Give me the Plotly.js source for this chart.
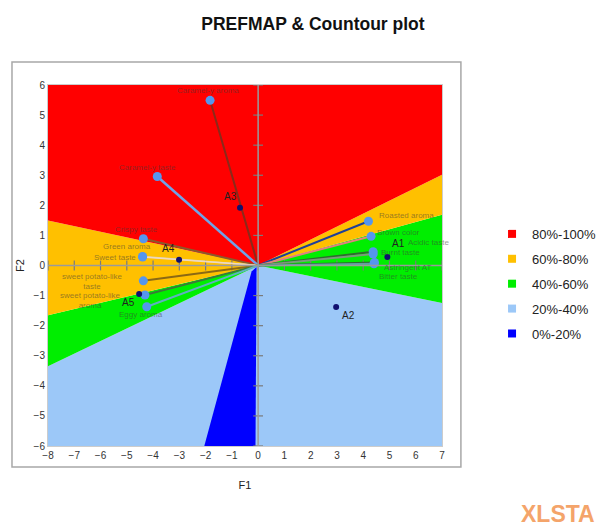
<!DOCTYPE html>
<html><head><meta charset="utf-8">
<script src="https://cdn.plot.ly/plotly-3.0.1.min.js"></script>
<style>html,body{margin:0;padding:0;background:#fff}#chart{width:603px;height:529px}</style>
</head><body><div id="chart"></div>
<script>
// ---- data ----
const attrNames = ["Caramel-y aroma","Caramel-y taste","Crispy taste","Green aroma","Sweet taste","sweet potato-like<br>taste","sweet potato-like<br>aroma","Eggy aroma","Roasted aroma","Brown color","Acidic taste","Burnt taste","Astringent AT","Bitter taste"];
const attrX = [-1.83,-3.84,-4.37,-4.40,-4.40,-4.37,-4.31,-4.24,4.20,4.30,4.38,4.38,4.43,4.41];
const attrY = [5.49,2.96,0.89,0.30,0.28,-0.51,-0.98,-1.37,1.47,0.97,0.46,0.38,0.10,0.06];
const prodNames = ["A1","A2","A3","A4","A5"];
const prodX = [4.92,2.97,-0.69,-3.01,-4.53];
const prodY = [0.28,-1.38,1.92,0.19,-0.95];
const zoneNames = ["80%-100%","60%-80%","40%-60%","20%-40%","0%-20%"];
// zone boundaries (polygons)
const zone80X = [-8,7,7,0,-8];
const zone80Y = [6,6,3.02,0,1.5];
const zone60X = [-8,0,-8,null,0,7,7];
const zone60Y = [1.5,0,-1.65,null,0,3.02,1.69];
const zone40X = [-8,0,-8,null,0,7,7];
const zone40Y = [-1.65,0,-3.35,null,0,1.69,-1.25];
const zone20X = [-8,0,7,7,-8];
const zone20Y = [-3.35,0,-1.25,-6,-6];
const zone0X = [-0.25,-0.06,-0.1,-2.05];
const zone0Y = [-0.2,-0.05,-6,-6];
const xTicks = [-8,-7,-6,-5,-4,-3,-2,-1,0,1,2,3,4,5,6,7];
const yTicks = [-6,-5,-4,-3,-2,-1,0,1,2,3,4,5,6];

// ---- styles ----
const zoneColors = ["#ff0000","#ffc000","#00ee00","#9cc8f8","#0000ff"];
const vecColors = ["#8a2a1a","#6fa3e8","#8b5a2b","#d8d0b0","#f0d8c0","#8b6914","#3a7a3a","#5fb0c0","#1f3f99","#e08080","#2e6b2e","#7a9a7a","#2e6b2e","#60a0a0"];
const vecWidths = [2,2.5,2,1.5,1.5,2,2,2,2,2,2,2,2,2];
const attrDX = [-2,-10,-7,-16,-28,-51,-54,-6,38,27,55,27,34,25];
const attrDY = [10,9,9,10,0,-1,-6,-8,6,4,9,2,-5,-13];
const prodDX = [11,12,-10,-11,-11];
const prodDY = [14,-8,11,11,-8];

const traces = [];
const zones = [[zone80X,zone80Y],[zone60X,zone60Y],[zone40X,zone40Y],[zone20X,zone20Y],[zone0X,zone0Y]];
[3,2,1,0,4].forEach(i=>{
  traces.push({x:zones[i][0],y:zones[i][1],type:'scatter',mode:'lines',fill:'toself',
    fillcolor:zoneColors[i],line:{width:0,color:zoneColors[i]},showlegend:false,hoverinfo:'skip'});
});
// tick marks on zero axes
traces.push({x:xTicks,y:xTicks.map(()=>0),type:'scatter',mode:'markers',hoverinfo:'skip',
  marker:{symbol:'line-ns',size:7,color:'#7a7a7a',line:{color:'#7a7a7a',width:1.2}},showlegend:false});
traces.push({x:yTicks.map(()=>0),y:yTicks,type:'scatter',mode:'markers',hoverinfo:'skip',
  marker:{symbol:'line-ew',size:7,color:'#7a7a7a',line:{color:'#7a7a7a',width:1.2}},showlegend:false});
// vectors
attrNames.forEach((n,i)=>{
  traces.push({x:[0,attrX[i]],y:[0,attrY[i]],type:'scatter',mode:'lines',
    line:{color:vecColors[i],width:vecWidths[i]},showlegend:false,hoverinfo:'skip'});
});
traces.push({x:attrX,y:attrY,type:'scatter',mode:'markers',text:attrNames,
  marker:{color:'#5596ee',size:9},showlegend:false});
traces.push({x:prodX,y:prodY,type:'scatter',mode:'markers',text:prodNames,
  marker:{color:'#101070',size:6},showlegend:false});
// legend entries
zoneNames.forEach((n,i)=>{
  traces.push({x:[null],y:[null],type:'scatter',mode:'markers',name:n,legendgroup:'g'+i,
    marker:{symbol:'square',size:8,color:zoneColors[i]}});
});

const annotations = [];
attrNames.forEach((n,i)=>{
  annotations.push({x:attrX[i],y:attrY[i],xref:'x',yref:'y',text:n,showarrow:false,
    xshift:attrDX[i],yshift:attrDY[i],
    font:{family:'Liberation Sans, Arial',size:8,color:'rgba(60,60,60,0.55)'}});
});
prodNames.forEach((n,i)=>{
  annotations.push({x:prodX[i],y:prodY[i],xref:'x',yref:'y',text:n,showarrow:false,
    xshift:prodDX[i],yshift:prodDY[i],
    font:{family:'Liberation Sans, Arial',size:10,color:'#222'}});
});
annotations.push({xref:'paper',yref:'paper',x:1.195,y:-0.188,xanchor:'left',yanchor:'middle',
  text:'<b>XLSTA</b>',showarrow:false,
  font:{family:'Liberation Sans, Arial',size:23,color:'#f4a46a'}});

const layout = {
  width:603,height:529,
  margin:{l:48,r:161,t:85,b:83,autoexpand:false},
  paper_bgcolor:'#fff',plot_bgcolor:'#fff',
  font:{family:'Liberation Sans, Arial',color:'#333'},
  title:{text:'<b>PREFMAP & Countour plot</b>',xref:'container',x:0.519,y:0.955,yanchor:'middle',
    font:{size:17.5,color:'#111'}},
  xaxis:{range:[-8,7],tickvals:xTicks,showgrid:false,zeroline:false,
    showline:true,mirror:true,linecolor:'#cccccc',linewidth:1,ticks:'',
    tickfont:{size:10,color:'#333'},title:{text:'F1',font:{size:11,color:'#222'},standoff:21}},
  yaxis:{range:[-6,6],tickvals:yTicks,showgrid:false,zeroline:false,
    showline:true,mirror:true,linecolor:'#cccccc',linewidth:1,ticks:'',
    tickfont:{size:10,color:'#333'},title:{text:'F2',font:{size:11,color:'#222'},standoff:6}},
  legend:{x:1.127,y:0.629,xanchor:'left',yanchor:'top',traceorder:'grouped',tracegroupgap:5,
    font:{size:13,color:'#222'},bgcolor:'rgba(0,0,0,0)'},
  shapes:[
    {type:'rect',xref:'paper',yref:'paper',x0:-0.0914,x1:1.048,y0:-0.058,y1:1.064,
      line:{color:'#a8a8a8',width:1.5},fillcolor:'rgba(0,0,0,0)'},
    {type:'line',xref:'x',yref:'paper',x0:0,x1:0,y0:0,y1:1,layer:'above',line:{color:'#9a9a9a',width:1.5}},
    {type:'line',xref:'paper',yref:'y',x0:0,x1:1,y0:0,y1:0,layer:'above',line:{color:'#9a9a9a',width:1.5}}
  ],
  annotations:annotations,
  showlegend:true
};
Plotly.newPlot('chart',traces,layout,{displayModeBar:false,staticPlot:true});
</script>
</body></html>
